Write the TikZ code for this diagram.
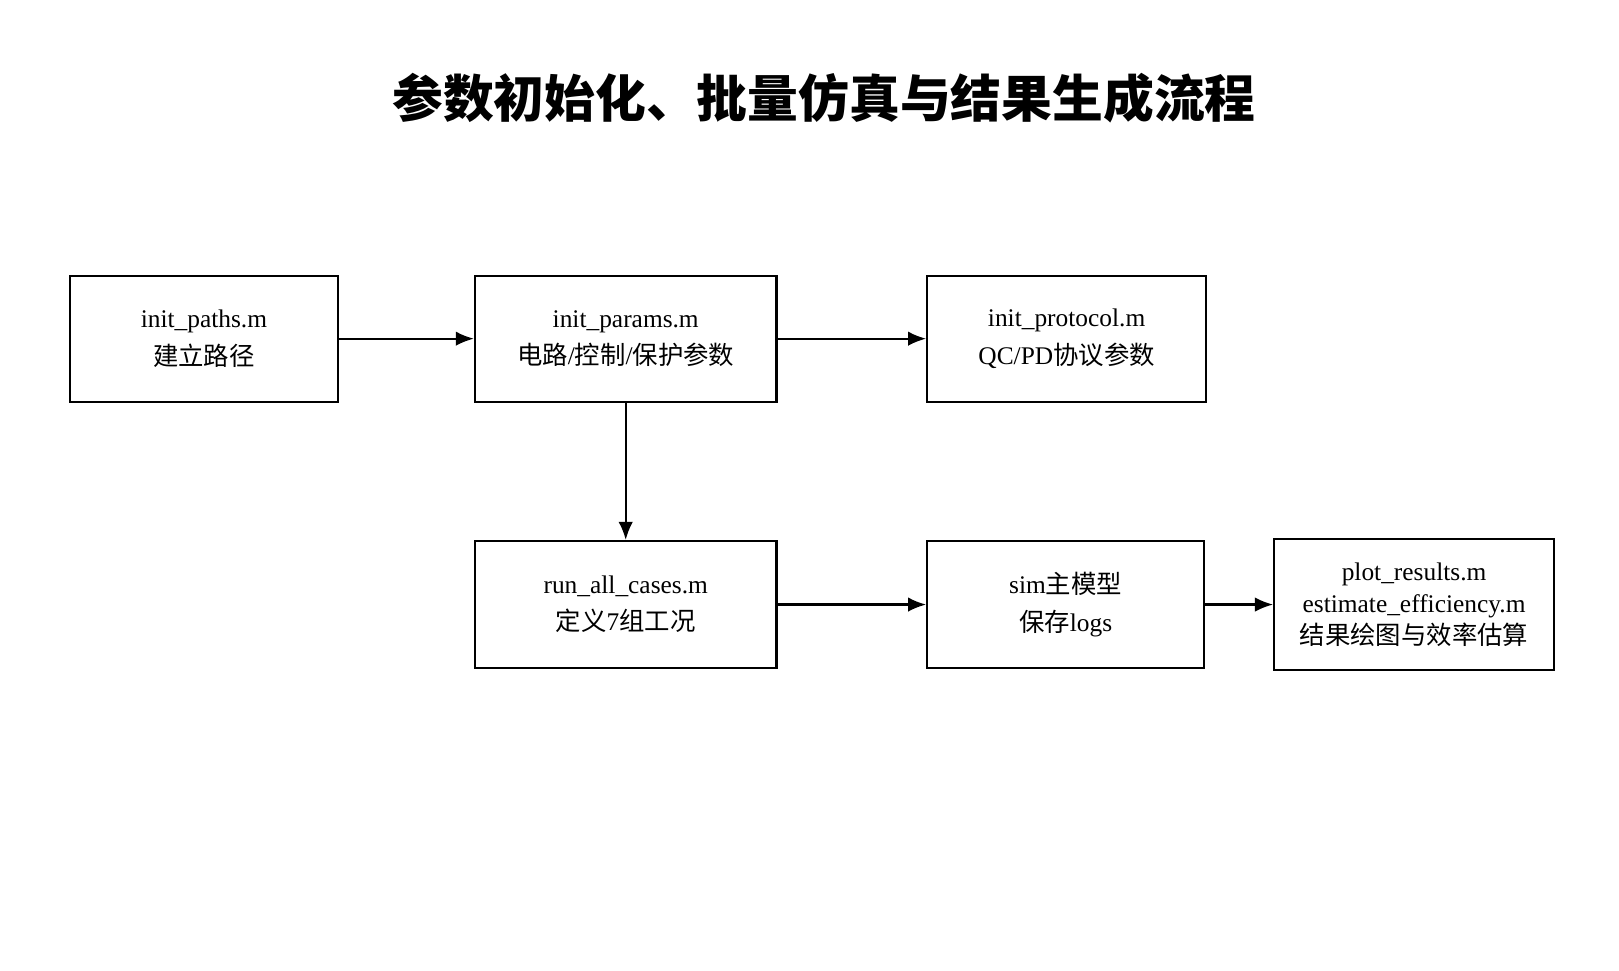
\documentclass[tikz,border=0pt]{standalone}
\usepackage{fontspec}
\setmainfont{Liberation Serif}
\newfontfamily\cjk{Noto Sans CJK SC}
\usetikzlibrary{positioning,arrows.meta}
\tikzset{
  stage/.style={draw, line width=1.2pt, rectangle, align=center, font=\fontsize{14}{20.5}\selectfont},
  flow/.style={line width=1.2pt, -{Latex[length=10pt,width=8pt]}}
}
\begin{document}
\begin{tikzpicture}[x=0.02cm, y=-0.02cm]
   \useasboundingbox (0,0) rectangle (1568,940);
   % title
   \node (title) at (798,95) {\fontsize{28}{32}\selectfont\cjk\bfseries 参数初始化、批量仿真与结果生成流程};
   % upper row
   \node[stage, minimum width=5.18cm, minimum height=2.44cm] (paths) at (197.5,328) {init\_paths.m\\{\cjk 建立路径}};
   \node[stage, minimum width=5.84cm, minimum height=2.44cm] (params) at (606,328) {init\_params.m\\{\cjk 电路}/{\cjk 控制}/{\cjk 保护参数}};
   \node[stage, minimum width=5.40cm, minimum height=2.44cm] (protocol) at (1033,328) {init\_protocol.m\\QC/PD{\cjk 协议参数}};
   % lower row
   \node[stage, minimum width=5.84cm, minimum height=2.46cm] (cases) at (606,585.5) {run\_all\_cases.m\\{\cjk 定义}7{\cjk 组工况}};
   \node[stage, minimum width=5.36cm, minimum height=2.46cm] (sim) at (1032,585.5) {sim{\cjk 主模型}\\{\cjk 保存}logs};
   \node[stage, minimum width=5.42cm, minimum height=2.54cm, font=\fontsize{14}{17.5}\selectfont] (plot) at (1369.5,585.5) {plot\_results.m\\estimate\_efficiency.m\\{\cjk 结果绘图与效率估算}};
   % connectors
   \draw[flow] (paths) -- (params);
   \draw[flow] (params) -- (protocol);
   \draw[flow] (params) -- (cases);
   \draw[flow] (cases) -- (sim);
   \draw[flow] (sim) -- (plot);
\end{tikzpicture}
\end{document}
